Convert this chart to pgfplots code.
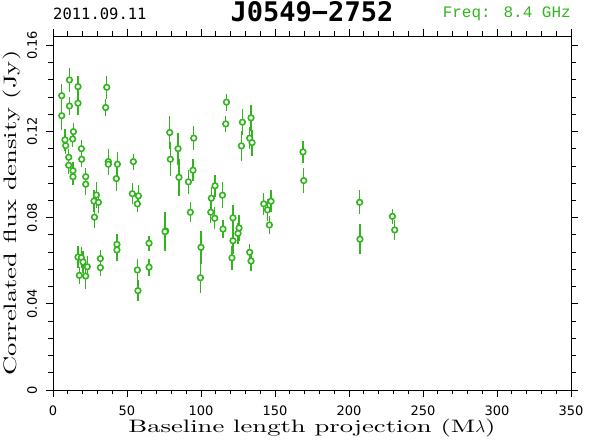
\documentclass[border=0pt]{standalone}
\usepackage{fontspec}
\usepackage{pgfplots}
\pgfplotsset{compat=1.18}
\usepackage{pgfplotstable}
\newfontfamily\labfont[FakeStretch=1.48]{lmroman10-regular.otf}
\newfontfamily\tickfont{DejaVu Sans}
\newfontfamily\monofont{DejaVu Sans Mono}
\newfontfamily\freqfont{Liberation Mono}
\definecolor{ptgreen}{RGB}{50,180,30}
\pgfplotstableread{
x y e
11.1 0.1439 0.0054
16.9 0.1408 0.0051
36.3 0.1405 0.0054
5.9 0.1366 0.0056
16.9 0.1331 0.0054
11.1 0.1318 0.0042
35.6 0.1311 0.0040
5.9 0.1273 0.0065
13.8 0.1199 0.0042
8.1 0.1161 0.0051
13.3 0.1165 0.0037
8.6 0.1134 0.0037
19.2 0.1120 0.0042
10.6 0.1080 0.0037
19.4 0.1071 0.0037
37.4 0.1060 0.0060
37.4 0.1048 0.0050
43.5 0.1048 0.0056
54.3 0.1060 0.0037
10.6 0.1043 0.0040
13.5 0.1018 0.0040
13.5 0.0990 0.0040
22.1 0.0990 0.0040
42.8 0.0981 0.0056
22.1 0.0955 0.0050
29.3 0.0905 0.0060
27.7 0.0877 0.0050
30.7 0.0871 0.0050
28.0 0.0802 0.0050
53.6 0.0911 0.0050
57.7 0.0901 0.0050
57.0 0.0864 0.0040
16.9 0.0617 0.0050
19.2 0.0614 0.0050
20.3 0.0594 0.0050
23.2 0.0572 0.0050
17.8 0.0532 0.0040
22.1 0.0529 0.0060
32.0 0.0610 0.0040
32.0 0.0568 0.0040
43.2 0.0676 0.0050
43.2 0.0650 0.0050
57.0 0.0557 0.0050
57.4 0.0461 0.0050
117.2 0.1336 0.0039
116.7 0.1235 0.0037
128.0 0.1243 0.0060
133.8 0.1263 0.0060
132.9 0.1169 0.0050
134.5 0.1148 0.0060
127.3 0.1133 0.0070
78.9 0.1195 0.0075
84.5 0.1120 0.0075
79.3 0.1071 0.0080
95.1 0.1169 0.0057
85.1 0.0987 0.0085
94.6 0.1020 0.0050
91.5 0.0966 0.0057
168.9 0.1105 0.0050
169.4 0.0972 0.0060
109.5 0.0948 0.0050
114.5 0.0904 0.0060
107.0 0.0890 0.0050
106.6 0.0825 0.0050
109.3 0.0797 0.0050
92.8 0.0825 0.0047
142.4 0.0864 0.0050
147.3 0.0876 0.0050
144.9 0.0836 0.0050
146.2 0.0766 0.0040
121.6 0.0799 0.0060
125.7 0.0752 0.0060
125.0 0.0727 0.0050
114.9 0.0747 0.0040
76.1 0.0738 0.0070
75.7 0.0735 0.0090
121.6 0.0693 0.0060
120.9 0.0613 0.0055
100.0 0.0662 0.0075
99.6 0.0521 0.0070
132.9 0.0639 0.0040
133.8 0.0599 0.0045
64.9 0.0681 0.0035
64.9 0.0570 0.0040
207.2 0.0871 0.0056
207.4 0.0700 0.0070
229.3 0.0806 0.0035
230.9 0.0743 0.0045
}\fluxdata
\begin{document}
\begin{tikzpicture}
\useasboundingbox (0,0) rectangle (590pt,443pt);
\begin{axis}[
  name=ax,
  at={(53pt,53pt)}, anchor=south west,
  scale only axis, width=518pt, height=354pt,
  xmin=0, xmax=350, ymin=0, ymax=0.1643,
  xtick={0,50,...,350}, minor x tick num=4,
  ytick={0,0.04,0.08,0.12,0.16}, yticklabels={0,0.04,0.08,0.12,0.16},
  minor y tick num=4, scaled y ticks=false,
  tick align=outside, major tick length=7pt, minor tick length=4.5pt,
  axis line style={line width=0.8pt},
  every tick/.style={line width=0.8pt, black},
  /pgf/number format/assume math mode=true,
  xticklabel style={font=\tickfont\fontsize{13}{13}\selectfont, inner sep=0pt, anchor=north},
  xticklabel shift=9pt,
  yticklabel style={font=\tickfont\fontsize{13}{13}\selectfont, inner sep=0pt, rotate=90, anchor=south},
  yticklabel shift=8.7pt,
  xlabel={Baseline length projection (M$\lambda$)},
  ylabel={Correlated flux density (Jy)},
  xlabel style={font=\labfont\fontsize{18}{20}\selectfont, at={(axis description cs:0.5,-0.082)}, anchor=north, inner sep=0pt},
  ylabel style={font=\labfont\fontsize{18}{20}\selectfont, at={(axis description cs:-0.0965,0.5)}, anchor=north, rotate=0, inner sep=0pt},
]
\addplot[draw=none, mark=none, forget plot,
  error bars/.cd, y dir=both, y explicit, error mark=none,
  error bar style={line width=1.3pt, solid, ptgreen}]
  table[x=x, y=y, y error=e] {\fluxdata};
\addplot[draw=none, only marks, mark=*, mark size=2.8pt,
  mark options={draw=ptgreen, fill=white, line width=1.6pt}]
  table[x=x, y=y] {\fluxdata};
\end{axis}
\node[anchor=base west, inner sep=0pt, font=\monofont\fontsize{15.5}{16}\selectfont] at ([yshift=16.7pt]ax.north west) {2011.09.11};
\node[anchor=base, inner sep=0pt, font=\monofont\bfseries\fontsize{27}{28}\selectfont] at ([yshift=14.5pt]ax.north) {J0549−2752};
\node[anchor=base east, inner sep=0pt, text=ptgreen, font=\freqfont\fontsize{16}{17}\selectfont] at ([yshift=18pt]ax.north east) {Freq: 8.4 GHz};
\end{tikzpicture}
\end{document}
